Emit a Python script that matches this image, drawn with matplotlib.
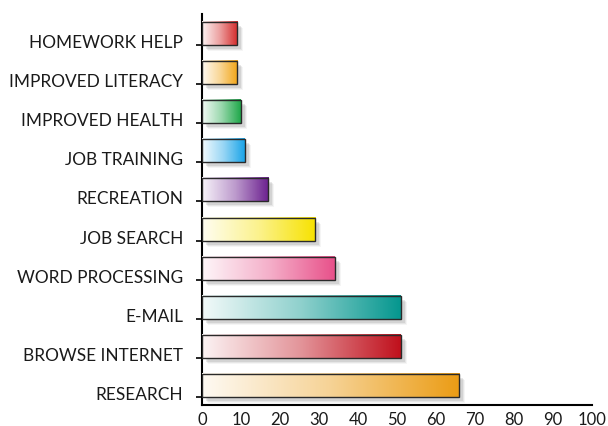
import matplotlib.pyplot as plt
import numpy as np
import matplotlib.transforms as mtransforms
from matplotlib.colors import LinearSegmentedColormap, to_rgb
from matplotlib.patches import Rectangle

# bottom to top
categories = ["RESEARCH", "BROWSE INTERNET", "E-MAIL", "WORD PROCESSING", "JOB SEARCH",
              "RECREATION", "JOB TRAINING", "IMPROVED HEALTH", "IMPROVED LITERACY", "HOMEWORK HELP"]
values = [66, 51, 51, 34, 29, 17, 11, 10, 9, 9]
bar_colors = ["#eb9c14", "#c0101c", "#05978f", "#e8518a", "#f7e200",
              "#6b1f8f", "#1aa4e8", "#1fa84a", "#f2a516", "#d42a2a"]
xticks = [0, 10, 20, 30, 40, 50, 60, 70, 80, 90, 100]

plt.rcParams['font.family'] = ['Lato', 'DejaVu Sans']

fig = plt.figure(figsize=(6.08, 4.27), dpi=100)
ax = fig.add_axes([202 / 608, 21 / 427, 390 / 608, 391 / 427])

h = 0.59
grad = np.linspace(0, 1, 256).reshape(1, -1)
for i, (v, c) in enumerate(zip(values, bar_colors)):
    y0 = i - h / 2
    # soft drop shadow, down and to the right
    for dx, a in [(6, 0.08), (5, 0.12), (4, 0.18)]:
        tr = mtransforms.offset_copy(ax.transData, fig=fig, x=dx, y=-dx, units='dots')
        ax.add_patch(Rectangle((0, y0), v, h, transform=tr, facecolor='#808080',
                               alpha=a, lw=0, zorder=2))
    rgb = np.array(to_rgb(c))
    light = 1 - (1 - rgb) * 0.05
    mid = 1 - (1 - rgb) * 0.45
    cmap = LinearSegmentedColormap.from_list("g%d" % i, [light, mid, rgb])
    ax.imshow(grad, extent=(0, v, y0, y0 + h), aspect='auto', cmap=cmap, zorder=3)
    ax.add_patch(Rectangle((0, y0), v, h, fill=False, ec='#2a2a2a', lw=1.0, zorder=4))

ax.set_xlim(0, 100)
ax.set_ylim(-0.5, 9.5)

# labels sit a little below the bar centres
ax.set_yticks([i - 0.18 for i in range(len(categories))])
ax.set_yticklabels(categories, fontsize=12.4, color='#1a1a1a')
ax.tick_params(axis='y', which='major', length=0, pad=13.5)
ax.set_yticks([i - h / 2 for i in range(len(categories))], minor=True)
ax.tick_params(axis='y', which='minor', length=4, width=1.2, direction='out', color='black')

ax.set_xticks(xticks)
ax.set_xticklabels([str(t) for t in xticks], fontsize=12, color='#1a1a1a')
ax.tick_params(axis='x', length=0, pad=4)

for s in ['top', 'right']:
    ax.spines[s].set_visible(False)
for s in ['left', 'bottom']:
    ax.spines[s].set_linewidth(1.5)
    ax.spines[s].set_color('black')

fig.savefig("out.png", dpi=100)
